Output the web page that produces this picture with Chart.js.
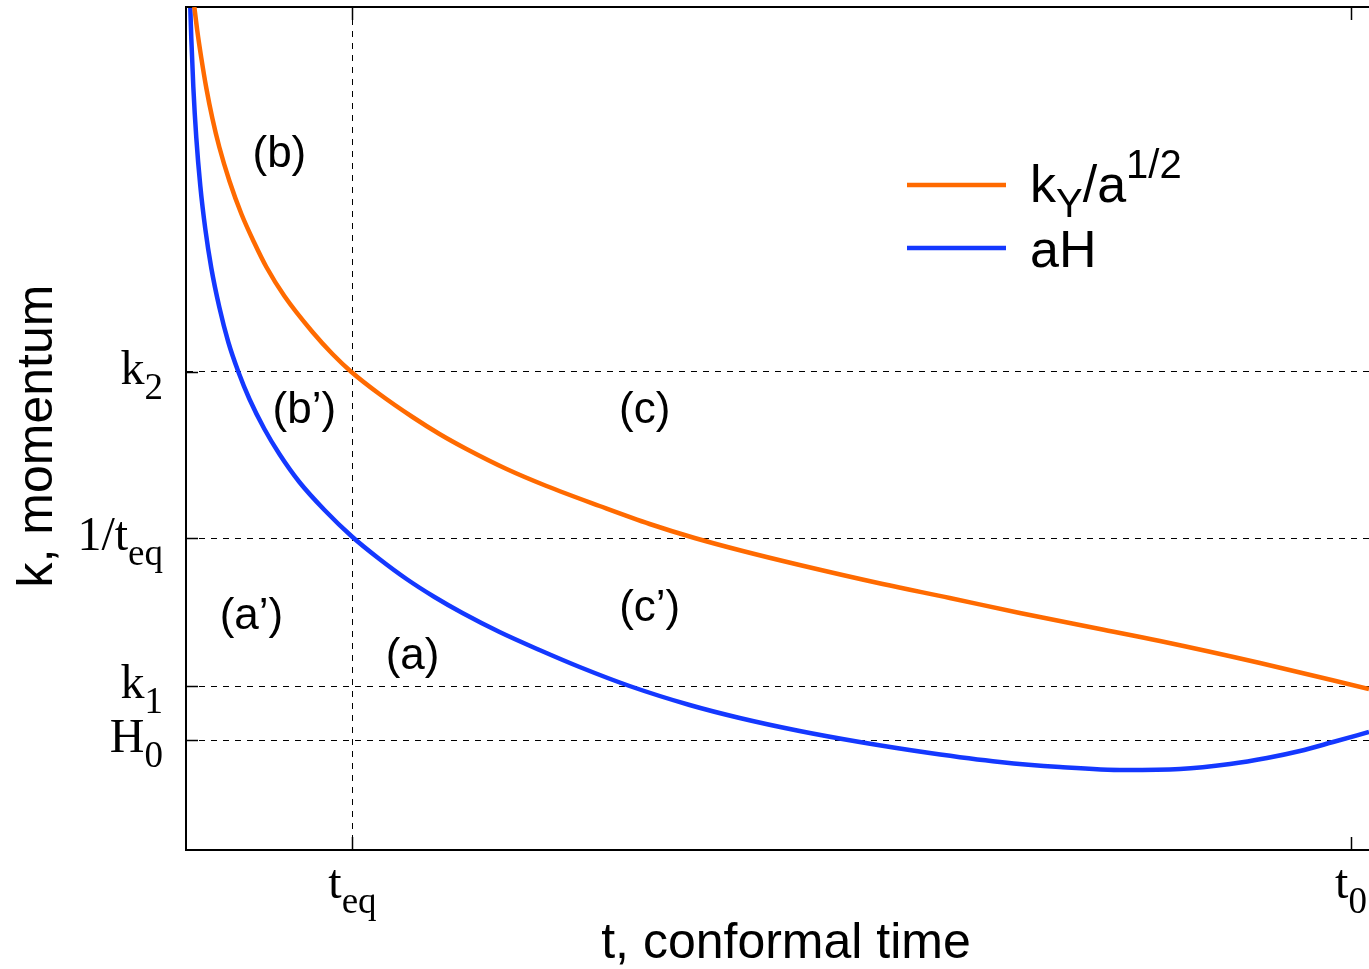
<!doctype html>
<html lang="en">
<head>
<meta charset="utf-8">
<title>k, momentum vs conformal time</title>
<style>
  html, body { margin: 0; padding: 0; background: #fff; }
  #wrap { width: 1369px; height: 969px; }
</style>
</head>
<body>
<div id="wrap"><canvas id="canvas" width="1369" height="969"></canvas></div>
<script src="https://cdn.jsdelivr.net/npm/chart.js@4.4.1/dist/chart.umd.min.js"></script>
<script>
// t in units of t_eq (t0 = 7), k in arbitrary units
var aH_t = [0.026, 0.032, 0.044, 0.062, 0.086, 0.116, 0.152, 0.200, 0.254, 0.315, 0.381, 0.471, 0.561, 0.681, 0.832, 1.000,
            1.162, 1.325, 1.493, 1.661, 1.884, 2.124, 2.365, 2.665, 3.026, 3.327, 3.687, 4.048, 4.469, 4.890, 5.251,
            5.641, 5.972, 6.273, 6.495, 6.693, 6.892, 7.108];
var aH_k = [8.42, 8.11, 7.63, 7.12, 6.64, 6.21, 5.82, 5.43, 5.08, 4.78, 4.51, 4.21, 3.96, 3.68, 3.40, 3.13,
            2.91, 2.71, 2.53, 2.37, 2.18, 2.00, 1.83, 1.64, 1.45, 1.32, 1.19, 1.08, 0.97, 0.88, 0.83,
            0.80, 0.81, 0.86, 0.92, 0.99, 1.08, 1.18];

var kY_t = [0.050, 0.068, 0.092, 0.122, 0.158, 0.200, 0.261, 0.333, 0.411, 0.483, 0.591, 0.760, 0.880, 0.994, 1.162, 1.361,
            1.523, 1.685, 1.926, 2.166, 2.485, 2.786, 3.056, 3.345, 3.687, 4.186, 4.589, 5.010, 5.491, 5.852, 6.453, 7.108];
var kY_k = [8.43, 8.19, 7.92, 7.62, 7.32, 7.03, 6.69, 6.36, 6.07, 5.83, 5.54, 5.18, 4.96, 4.78, 4.56, 4.33,
            4.16, 4.01, 3.81, 3.64, 3.44, 3.26, 3.12, 2.99, 2.85, 2.66, 2.52, 2.37, 2.21, 2.09, 1.87, 1.61];

var yTickValues = [1.10, 1.64, 3.12, 4.78];
var yTickLabels = [['H', '0'], ['k', '1'], ['1/t', 'eq'], ['k', '2']];
var xTickValues = [1, 7];
var xTickLabels = [['t', 'eq'], ['t', '0']];

var regionText = ['(b)', '(b\u2019)', '(c)', '(a\u2019)', '(c\u2019)', '(a)'];
var regionT = [0.561, 0.711, 2.756, 0.393, 2.786, 1.361];
var regionK = [6.95, 4.39, 4.39, 2.33, 2.41, 1.93];

var orange = '#ff6a00';
var blue = '#1438ff';

function toXY(ts, ks) {
  return ts.map(function (t, i) { return { x: t, y: ks[i] }; });
}

function richText(ctx, parts, x, y, align) {
  var w = 0;
  parts.forEach(function (p) { ctx.font = p.font; p.w = ctx.measureText(p.t).width; w += p.w; });
  var cx = align === 'right' ? x - w : (align === 'center' ? x - w / 2 : x);
  parts.forEach(function (p) {
    ctx.font = p.font;
    ctx.fillText(p.t, cx, y + (p.dy || 0));
    cx += p.w;
  });
}

var serif = '"Liberation Serif", "Times New Roman", serif';
var sans = '"Liberation Sans", Arial, Helvetica, sans-serif';

var textPlugin = {
  id: 'texts',
  afterDraw: function (chart) {
    var ctx = chart.ctx, xs = chart.scales.x, ys = chart.scales.y, area = chart.chartArea;
    ctx.save();
    ctx.fillStyle = '#000';
    ctx.textAlign = 'left';
    ctx.textBaseline = 'alphabetic';

    // inward tick marks
    ctx.strokeStyle = '#000';
    ctx.lineWidth = 1.5;
    ctx.beginPath();
    yTickValues.forEach(function (v) {
      var py = Math.round(ys.getPixelForValue(v)) + 0.5;
      ctx.moveTo(area.left, py); ctx.lineTo(area.left + 12, py);
    });
    xTickValues.forEach(function (v) {
      var px = Math.round(xs.getPixelForValue(v)) + 0.5;
      ctx.moveTo(px, area.bottom); ctx.lineTo(px, area.bottom - 13);
      ctx.moveTo(px, area.top); ctx.lineTo(px, area.top + 13);
    });
    ctx.stroke();

    // y tick labels
    yTickValues.forEach(function (v, i) {
      var py = ys.getPixelForValue(v);
      richText(ctx, [
        { t: yTickLabels[i][0], font: '48px ' + serif },
        { t: yTickLabels[i][1], font: '37px ' + serif, dy: 15 }
      ], area.left - 23, py + 12, 'right');
    });

    // x tick labels
    xTickValues.forEach(function (v, i) {
      var px = xs.getPixelForValue(v);
      richText(ctx, [
        { t: xTickLabels[i][0], font: '48px ' + serif },
        { t: xTickLabels[i][1], font: '37px ' + serif, dy: 15 }
      ], px, area.bottom + 48, 'center');
    });

    // region labels
    ctx.font = '44px ' + sans;
    ctx.textAlign = 'center';
    ctx.textBaseline = 'middle';
    regionText.forEach(function (s, i) {
      ctx.fillText(s, xs.getPixelForValue(regionT[i]), ys.getPixelForValue(regionK[i]));
    });

    // axis titles
    ctx.textBaseline = 'alphabetic';
    ctx.font = '50px ' + sans;
    ctx.fillText('t, conformal time', 786, 958);
    ctx.save();
    ctx.translate(52, 436);
    ctx.rotate(-Math.PI / 2);
    ctx.fillText('k, momentum', 0, 0);
    ctx.restore();

    // legend
    ctx.lineWidth = 4.5;
    ctx.strokeStyle = orange;
    ctx.beginPath(); ctx.moveTo(907, 185); ctx.lineTo(1006, 185); ctx.stroke();
    ctx.strokeStyle = blue;
    ctx.beginPath(); ctx.moveTo(907, 248); ctx.lineTo(1006, 248); ctx.stroke();
    ctx.textAlign = 'left';
    richText(ctx, [
      { t: 'k', font: '52px ' + sans },
      { t: 'Y', font: '40px ' + sans, dy: 15 },
      { t: '/a', font: '52px ' + sans },
      { t: '1/2', font: '40px ' + sans, dy: -24 }
    ], 1030, 202, 'left');
    ctx.font = '52px ' + sans;
    ctx.fillText('aH', 1030, 267);

    ctx.restore();
  }
};

var ctx = document.getElementById('canvas').getContext('2d');
var chart = new Chart(ctx, {
  type: 'line',
  data: {
    datasets: [{
      label: 'kY/a^1/2',
      data: toXY(kY_t, kY_k),
      borderColor: orange,
      borderWidth: 4.5,
      pointRadius: 0,
      fill: false,
      cubicInterpolationMode: 'monotone'
    }, {
      label: 'aH',
      data: toXY(aH_t, aH_k),
      borderColor: blue,
      borderWidth: 4.5,
      pointRadius: 0,
      fill: false,
      cubicInterpolationMode: 'monotone'
    }]
  },
  options: {
    responsive: false,
    animation: false,
    layout: { padding: 0 },
    plugins: {
      legend: { display: false },
      tooltip: { enabled: false }
    },
    scales: {
      x: {
        type: 'linear',
        position: 'bottom',
        min: 0,
        max: 7.108,
        afterBuildTicks: function (scale) {
          scale.ticks = xTickValues.map(function (v) { return { value: v }; });
        },
        afterFit: function (scale) { scale.height = 119; },
        ticks: { display: false },
        grid: {
          drawTicks: false,
          lineWidth: 1,
          color: function (c) { return c.tick && c.tick.value === 1 ? '#000' : 'rgba(0,0,0,0)'; }
        },
        border: { display: true, color: '#000', width: 2, dash: [6, 6] }
      },
      xTop: {
        type: 'linear',
        position: 'top',
        min: 0,
        max: 7.108,
        afterFit: function (scale) { scale.height = 7; },
        ticks: { display: false },
        grid: { display: false, drawTicks: false },
        border: { display: true, color: '#000', width: 2 }
      },
      y: {
        type: 'linear',
        min: 0,
        max: 8.43,
        afterBuildTicks: function (scale) {
          scale.ticks = yTickValues.map(function (v) { return { value: v }; });
        },
        afterFit: function (scale) { scale.width = 186; },
        ticks: { display: false },
        grid: { drawTicks: false, lineWidth: 1, color: '#000' },
        border: { display: true, color: '#000', width: 2, dash: [6, 6] }
      }
    }
  },
  plugins: [textPlugin]
});
</script>
</body>
</html>
